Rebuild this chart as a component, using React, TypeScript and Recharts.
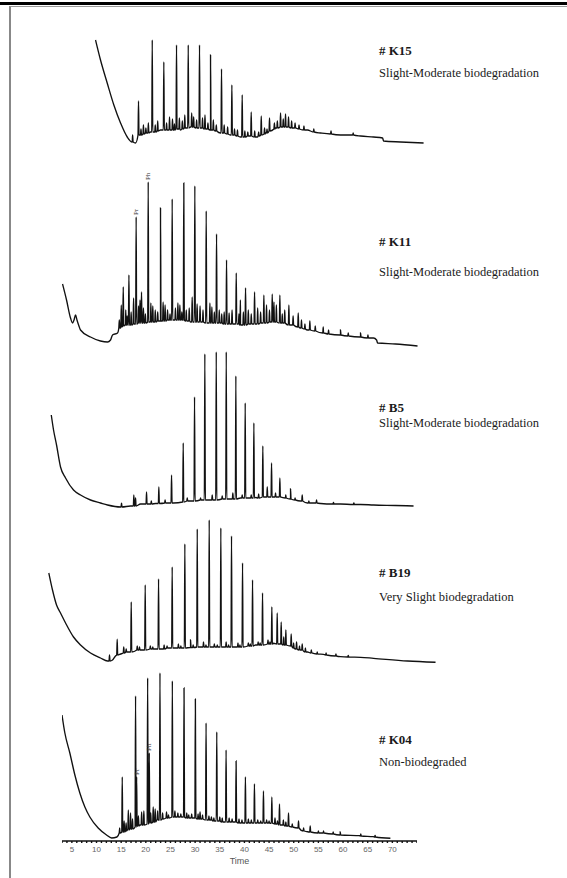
import { LineChart, Line, XAxis, YAxis, Label, ReferenceDot } from "recharts";

// sample names and grades, top to bottom
const SAMPLES = ["# K15", "# K11", "# B5", "# B19", "# K04"];
const GRADES = [
  "Slight-Moderate biodegradation",
  "Slight-Moderate biodegradation",
  "Slight-Moderate biodegradation",
  "Very Slight biodegradation",
  "Non-biodegraded",
];
const TIME_LABELS = [5, 10, 15, 20, 25, 30, 35, 40, 45, 50, 55, 60, 65, 70];

// baselines: [time, abundance]
const k15Base = [
  [9.67, 105], [10.68, 85], [12.04, 62], [13.39, 40], [14.75, 22], [16.11, 8], [17.12, 3],
  [17.79, 2], [18.81, 10], [20.84, 13], [22.87, 15], [26.94, 15], [28.97, 18], [30.99, 17],
  [33.03, 15], [35.06, 12], [37.1, 10], [39.12, 8], [41.15, 9], [42.58, 8], [44.2, 12],
  [46.23, 17], [48.67, 18], [50.3, 17], [52.73, 15], [55.37, 12], [59.43, 10], [63.5, 9],
  [66.14, 8], [67.97, 7], [68.18, 4], [71.63, 3], [76.3, 2],
];
const k11Base = [
  [2.97, 66], [3.78, 50], [4.59, 32], [5.0, 27], [5.3, 30], [5.61, 35], [5.9, 30], [6.3, 24],
  [6.62, 20], [8.65, 13], [10.68, 9], [12.11, 8], [12.72, 10], [13.12, 15], [14.14, 17],
  [14.75, 22], [15.77, 25], [16.78, 25], [18.81, 27], [20.84, 28], [22.87, 29], [25.51, 30],
  [28.97, 28], [32.42, 27], [36.08, 26], [39.12, 25], [42.17, 26], [45.83, 28], [47.65, 27],
  [49.28, 25], [51.31, 22], [52.73, 20], [55.98, 17], [59.43, 15], [63.5, 13], [66.14, 12],
  [66.75, 10], [66.96, 7], [70.6, 6], [75.07, 4],
];
const b5Base = [
  [0.68, 95], [1.14, 80], [1.75, 65], [2.56, 43], [3.58, 32], [5.2, 20], [6.62, 15],
  [8.65, 10], [10.68, 7], [12.11, 5], [14.75, 3], [16.78, 4], [18.81, 6], [21.86, 6.5],
  [25.51, 7], [28.97, 9], [32.42, 10], [36.08, 11], [39.12, 12], [42.17, 12.5], [45.83, 13],
  [48.26, 12], [49.28, 11], [51.31, 9], [52.73, 7], [55.37, 6.5], [59.43, 6], [63.5, 5.5],
  [66.14, 5], [70.6, 4.5], [74.26, 4],
];
const b19Base = [
  [0.18, 92], [0.93, 75], [1.75, 60], [2.56, 52], [3.58, 42], [5.2, 28], [6.62, 20],
  [8.65, 12], [10.68, 7], [12.11, 4], [13.12, 5], [13.73, 9], [14.75, 11], [16.17, 13],
  [18.81, 15], [21.86, 16], [25.51, 17], [28.97, 17.5], [32.42, 18], [36.08, 18], [39.12, 18],
  [42.17, 20], [45.83, 21.7], [48.26, 20], [50.3, 16], [52.73, 13], [55.98, 10.7],
  [59.43, 8.3], [63.5, 7.7], [66.14, 6.7], [73.04, 4], [78.73, 2.7],
];
const k04Base = [
  [3.0, 126], [3.58, 108], [4.59, 88], [5.61, 66], [6.62, 48], [7.64, 34], [8.65, 24],
  [10.34, 13], [12.04, 6], [13.06, 3], [14.14, 4], [14.75, 8], [16.17, 11], [18.81, 16],
  [22.26, 21], [25.51, 24], [28.97, 23], [32.42, 21], [36.08, 19], [39.12, 18], [42.17, 18],
  [45.83, 17.7], [49.28, 14.3], [52.73, 9.3], [55.98, 8], [59.43, 7], [63.5, 5.3],
  [66.14, 4.3], [69.6, 2.7],
];

// peaks: [time, foot, apex]
const k15Peaks = [
  [18.4, 10, 44], [21.19, 13, 105], [23.54, 15, 83], [26.12, 16, 100], [28.5, 17, 100],
  [30.79, 17, 100], [33.03, 15, 90], [35.26, 12, 76], [37.36, 10, 60], [39.46, 8, 50],
  [41.29, 9, 33], [43.33, 10, 29], [45.01, 14, 27], [47.25, 18, 32], [48.26, 18, 31],
  [48.87, 18, 28],
  [17.2, 3, 10], [18.9, 10, 16], [19.4, 11, 20], [19.9, 12, 17], [20.4, 12, 22], [21.8, 13, 20],
  [22.3, 14, 24], [24.1, 15, 22], [24.7, 15, 28], [25.3, 15, 26], [25.7, 15, 21], [26.7, 16, 27],
  [27.3, 16, 24], [27.8, 17, 30], [29.2, 18, 32], [29.6, 18, 28], [30.2, 17, 25], [31.4, 17, 27],
  [31.9, 16, 30], [32.5, 16, 22], [33.6, 15, 25], [34.2, 14, 20], [35.8, 12, 20], [36.5, 11, 18],
  [37.9, 10, 16], [38.5, 9, 15], [40.0, 8, 14], [40.6, 9, 13], [42.0, 8, 14], [42.8, 9, 13],
  [44.0, 11, 17], [44.5, 12, 16], [46.0, 16, 22], [46.6, 17, 24], [47.8, 18, 26], [49.5, 17, 24],
  [50.2, 17, 22], [51.0, 16, 20], [52.0, 15, 19], [54.0, 13, 16], [57.5, 11, 14], [62.0, 10, 12],
];
const k11Peaks = [
  [15.3, 24, 63], [16.45, 25, 75], [17.92, 26, 133], [19.01, 27, 58], [20.37, 28, 168],
  [22.87, 29, 142], [25.24, 30, 151], [27.6, 30, 167], [29.84, 28, 164], [32.15, 27, 139],
  [34.25, 27, 116], [36.28, 26, 90], [38.25, 26, 77], [40.14, 25, 62], [41.97, 26, 58],
  [43.86, 27, 55], [45.56, 28, 56], [47.11, 27, 55], [48.94, 25, 45], [50.84, 23, 37],
  [53.2, 20, 29], [55.92, 17, 23], [59.43, 15, 20], [63.5, 13, 17],
  [14.5, 22, 30], [14.9, 23, 45], [15.8, 25, 40], [16.1, 25, 34], [16.9, 25, 38], [17.4, 26, 52],
  [18.4, 27, 44], [18.7, 27, 50], [19.4, 27, 42], [19.8, 27, 36], [20.9, 28, 47], [21.3, 28, 44],
  [21.8, 28, 40], [22.3, 29, 38], [23.4, 29, 48], [23.8, 29, 45], [24.3, 30, 40], [24.8, 30, 36],
  [25.9, 30, 42], [26.4, 30, 47], [26.8, 30, 45], [27.2, 30, 38], [28.1, 29, 40], [28.7, 29, 42],
  [29.3, 28, 53], [30.3, 28, 46], [30.9, 28, 44], [31.5, 28, 40], [32.9, 27, 47], [33.3, 27, 43],
  [33.8, 27, 38], [34.8, 27, 40], [35.3, 27, 36], [35.8, 26, 38], [36.8, 26, 37], [37.4, 26, 40],
  [38.8, 26, 36], [39.1, 25, 50], [39.7, 25, 38], [40.7, 26, 40], [41.3, 26, 36], [42.6, 26, 42],
  [43.2, 27, 38], [44.4, 27, 45], [45.0, 28, 40], [45.9, 28, 48], [46.4, 28, 45], [47.6, 27, 36],
  [48.1, 27, 40], [49.8, 25, 34], [51.5, 22, 30], [52.2, 21, 26], [54.3, 19, 24], [57.0, 16, 20],
  [61.0, 14, 17], [65.0, 12, 15],
];
const b5Peaks = [
  [14.95, 3, 6.7], [17.45, 4, 15], [20.03, 6, 18], [22.53, 6.5, 23], [25.11, 7, 35],
  [27.48, 8, 67], [29.78, 9, 113], [31.87, 10, 156], [34.19, 10, 158], [36.22, 11, 158],
  [38.17, 11, 134], [40.07, 12, 107], [41.83, 12, 87], [43.65, 13, 64], [45.42, 13, 47],
  [47.11, 13, 32], [49.28, 11, 21], [51.65, 9, 15], [54.56, 7, 10], [62.14, 5.5, 7],
  [17.8, 4, 12], [21.0, 6, 9], [23.8, 7, 10], [28.3, 9, 12], [31.0, 10, 12], [33.37, 10, 15],
  [35.4, 11, 14], [37.56, 11, 17], [39.46, 12, 15], [41.29, 12, 15], [42.8, 12, 16],
  [44.55, 13, 23], [46.23, 13, 17], [48.3, 12, 15], [50.2, 10, 12], [53.0, 7, 9], [58.0, 6, 7.5],
];
const b19Peaks = [
  [12.51, 4, 10], [14.07, 10, 25.7], [16.92, 13, 63], [19.76, 15, 80], [22.47, 16, 86],
  [25.24, 17, 98], [27.81, 17, 121], [30.33, 18, 136], [32.76, 18, 145], [35.12, 18, 137],
  [37.29, 18, 129], [39.53, 18, 102], [41.56, 19, 85], [43.59, 20, 72], [45.48, 21, 58],
  [46.57, 21, 52], [47.38, 21, 43], [48.32, 20, 35], [49.41, 19, 31], [50.5, 16, 23],
  [51.65, 15, 21], [54.7, 11, 13],
  [15.4, 12, 18], [15.9, 13, 16], [18.14, 15, 19], [18.6, 15, 18], [20.8, 16, 19], [21.3, 16, 18],
  [23.6, 16, 20], [24.2, 17, 19], [26.5, 17, 21], [27.0, 17, 19], [28.97, 17.5, 25], [29.5, 17.5, 20],
  [31.6, 18, 23], [32.1, 18, 20], [33.8, 18, 21], [34.4, 18, 20], [36.2, 18, 23], [36.7, 18, 20],
  [38.6, 18, 22], [39.0, 18, 20], [40.7, 19, 22], [41.1, 19, 21], [42.7, 20, 23], [43.1, 20, 22],
  [44.7, 21, 25], [45.1, 21, 23], [47.9, 20, 28], [49.9, 17, 22], [51.1, 15, 19], [52.3, 13, 17],
  [53.5, 12, 15], [56.5, 10, 12], [58.5, 9, 11], [61.0, 8, 9.5],
];
const k04Peaks = [
  [15.22, 9, 64], [16.45, 11, 31], [17.92, 14, 145], [18.14, 15, 64], [20.37, 17, 163],
  [20.7, 18, 88], [22.87, 21, 168], [25.38, 24, 160], [27.75, 24, 153], [30.05, 23, 142],
  [32.22, 21, 118], [34.39, 20, 109], [36.28, 19, 91], [38.31, 19, 80], [40.2, 18, 64],
  [42.03, 18, 57], [43.86, 18, 50], [45.56, 17.7, 44], [47.11, 16, 37], [48.94, 15, 28],
  [50.97, 13, 20], [53.34, 9, 15], [56.04, 8, 10], [59.43, 6, 9], [63.6, 5, 7],
  [14.7, 8, 13], [15.6, 9, 20], [16.0, 10, 18], [16.9, 12, 28], [17.3, 12, 22], [18.5, 15, 25],
  [19.15, 16, 29], [19.6, 16, 30], [21.0, 18, 28], [21.5, 19, 34], [21.9, 19, 32], [22.4, 21, 30],
  [23.4, 22, 28], [24.2, 23, 29], [24.6, 23, 26], [25.9, 24, 30], [26.5, 24, 28], [27.1, 24, 27],
  [28.3, 23, 28], [28.7, 23, 26], [29.3, 23, 27], [30.6, 22, 27], [31.0, 22, 29], [31.5, 22, 26],
  [32.8, 21, 25], [33.3, 21, 24], [33.8, 20, 23], [35.0, 20, 24], [35.5, 19, 23], [36.9, 19, 23],
  [37.5, 19, 22], [38.9, 18, 22], [39.5, 18, 21], [40.8, 18, 22], [41.4, 18, 21], [42.7, 18, 21],
  [43.3, 18, 20], [44.5, 18, 21], [45.0, 18, 20], [46.2, 17, 23], [46.7, 17, 20], [47.9, 16, 21],
  [48.4, 15, 19], [49.7, 14, 17], [52.0, 10, 13], [55.0, 8, 10], [58.0, 7, 9], [66.5, 4, 5.5],
];

// pristane / phytane marks: [label, time, apex]
const k11Marks = [["Pr", 17.92, 133], ["Ph", 20.37, 168]];
const k04Marks = [["Pr", 18.14, 64], ["Ph", 20.7, 88]];

const buildTrace = (base: number[][], peaks: number[][]) => {
  const pts = base.map(([t, v]) => ({ t, v }));
  peaks.forEach(([t, foot, top]) => {
    pts.push({ t: t - 0.1, v: foot }, { t, v: top }, { t: t + 0.1, v: foot });
  });
  return pts.sort((a, b) => a.t - b.t);
};

const serif = "'Liberation Serif', 'Times New Roman', serif";
const sans = "'Liberation Sans', Arial, sans-serif";

const MarkShape = (props: any) => {
  const { cx, cy, text } = props;
  return (
    <text
      x={cx + 2}
      y={cy - 2}
      transform={`rotate(-90 ${cx + 2} ${cy - 2})`}
      fontSize={7}
      fontFamily={serif}
      fill="#333"
    >
      {text}
    </text>
  );
};

const Trace = ({ data, top, height, marks, axis }: any) => {
  const left = axis ? 62 : 42.5;
  const width = axis ? 355 : 398.8;
  const domain = axis ? [3, 75] : [-1, 80];
  return (
    <div style={{ position: "absolute", left, top }}>
      <LineChart
        width={width}
        height={height + (axis ? 30 : 0)}
        data={data}
        margin={{ top: 0, right: 0, bottom: 0, left: 0 }}
      >
        <XAxis
          dataKey="t"
          type="number"
          domain={domain}
          allowDataOverflow
          hide={!axis}
          ticks={axis ? Array.from({ length: 73 }, (_, i) => i + 3) : undefined}
          interval={0}
          tickFormatter={(v: number) => (TIME_LABELS.includes(v) ? String(v) : "")}
          tickSize={2}
          tickMargin={3}
          height={30}
          stroke="#111"
          strokeWidth={1.4}
          tick={{ fontSize: 8, fill: "#666", fontFamily: sans }}
        >
          {axis && (
            <Label
              value="Time"
              position="insideBottom"
              offset={7}
              style={{ fontSize: 9, fill: "#555", fontFamily: sans }}
            />
          )}
        </XAxis>
        <YAxis hide domain={[0, height]} allowDataOverflow />
        <Line
          dataKey="v"
          type="monotone"
          stroke="#111"
          strokeWidth={1.35}
          dot={false}
          isAnimationActive={false}
        />
        {(marks || []).map(([text, t, v]: any) => (
          <ReferenceDot
            key={text}
            x={t}
            y={v}
            r={0}
            shape={(p: any) => <MarkShape {...p} text={text} />}
          />
        ))}
      </LineChart>
    </div>
  );
};

const PANELS = [
  { data: buildTrace(k15Base, k15Peaks), top: 35, height: 110, name: 51, grade: 73 },
  { data: buildTrace(k11Base, k11Peaks), top: 170, height: 180, name: 242, grade: 272, marks: k11Marks },
  { data: buildTrace(b5Base, b5Peaks), top: 345, height: 165, name: 408, grade: 423 },
  { data: buildTrace(b19Base, b19Peaks), top: 515, height: 150, name: 573, grade: 597 },
  { data: buildTrace(k04Base, k04Peaks), top: 665, height: 176, name: 740, grade: 762, marks: k04Marks, axis: true },
];

export default function App() {
  return (
    <div
      style={{
        position: "absolute",
        left: 0,
        top: 0,
        width: 567,
        height: 878,
        overflow: "hidden",
        background: "#fff",
      }}
    >
      <div style={{ position: "absolute", left: 0, top: 2, width: 567, height: 3, background: "#000" }} />
      <div
        style={{
          position: "absolute",
          left: 9,
          top: 6,
          width: 600,
          height: 900,
          borderLeft: "2px solid #888",
          borderTop: "1px solid #999",
        }}
      />
      {PANELS.map((p, i) => (
        <div key={i}>
          <Trace data={p.data} top={p.top} height={p.height} marks={p.marks} axis={p.axis} />
          <div
            style={{
              position: "absolute",
              left: 379,
              top: p.name - 8,
              fontFamily: serif,
              fontWeight: "bold",
              fontSize: 13,
              lineHeight: "16px",
              color: "#1a1a1a",
              whiteSpace: "nowrap",
            }}
          >
            {SAMPLES[i]}
          </div>
          <div
            style={{
              position: "absolute",
              left: 379,
              top: p.grade - 8,
              fontFamily: serif,
              fontSize: 12.5,
              lineHeight: "16px",
              color: "#1a1a1a",
              whiteSpace: "nowrap",
            }}
          >
            {GRADES[i]}
          </div>
        </div>
      ))}
    </div>
  );
}
